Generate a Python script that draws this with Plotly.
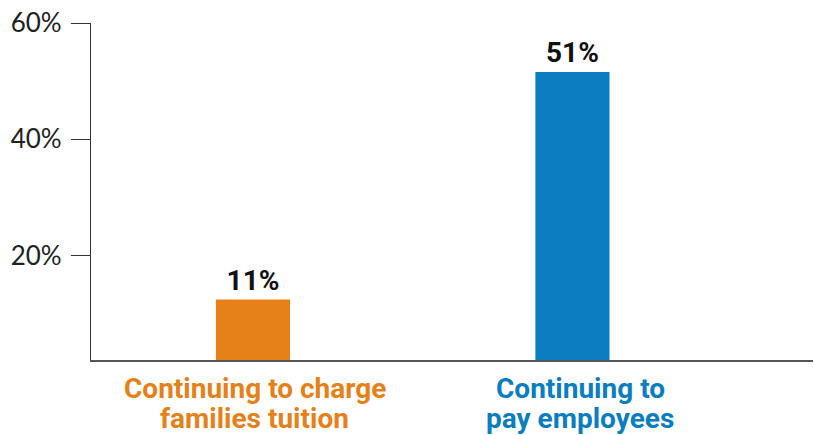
import plotly.graph_objects as go

categories = ["Continuing to charge<br>families tuition", "Continuing to<br>pay employees"]
values = [12.4, 51.6]
bar_labels = ["11%", "51%"]
colors = ["#E6811A", "#0A7EC0"]
y_tickvals = [20, 40, 60]
y_ticktext = ["20%", "40%", "60%"]

x_pos = list(range(len(categories)))
label_xshift = [2, 8]

fig = go.Figure()
fig.add_trace(go.Bar(
    x=x_pos, y=values, width=0.232,
    marker=dict(color=colors, line=dict(width=0)),
    text=[f"<b>{t}</b>" for t in bar_labels], textposition="outside",
    textfont=dict(family="Roboto", size=28, color="#111111"),
    cliponaxis=False,
))

for xp, cat, col, xs in zip(x_pos, categories, colors, label_xshift):
    for i, line in enumerate(cat.split("<br>")):
        fig.add_annotation(
            x=xp, xref="x", y=0, yref="paper",
            text=f"<b>{line}</b>", showarrow=False,
            xanchor="center", yanchor="middle",
            yshift=-28 - 30 * i, xshift=xs,
            font=dict(family="Roboto", size=28, color=col),
        )

fig.update_layout(
    width=814, height=435,
    margin=dict(l=91, r=1, t=23, b=75),
    plot_bgcolor="white", paper_bgcolor="white",
    showlegend=False,
    xaxis=dict(range=[-0.507, 1.753], tickvals=x_pos, showticklabels=False,
               showgrid=False, zeroline=False, showline=True, automargin=False,
               linecolor="#555555", linewidth=2, ticks=""),
    yaxis=dict(range=[2, 60.02], tickvals=y_tickvals, ticktext=y_ticktext,
               tickfont=dict(family="Lato", size=26, color="#222222"),
               showgrid=False, zeroline=False, showline=True, automargin=False,
               linecolor="#333333", linewidth=1.2, ticklabelstandoff=4,
               ticklabeloverflow="allow",
               ticks="outside", ticklen=19, tickwidth=1.2, tickcolor="#333333"),
)
fig.write_html("out.html", config={"displayModeBar": False},
               post_script="document.body.style.margin='0px';document.body.style.overflow='hidden';")
